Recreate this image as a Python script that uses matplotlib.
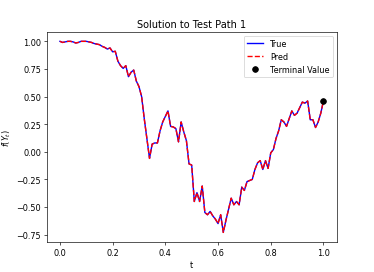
import numpy as np
import matplotlib
matplotlib.use('Agg')
import matplotlib.pyplot as plt

# path values, dt = 0.01
t = np.linspace(0, 1, 101)
y_true = [1.00, 0.99, 0.995, 1.00, 1.00, 0.995, 0.985, 0.99, 1.00, 1.00,
          1.00, 0.995, 0.99, 0.98, 0.975, 0.97, 0.955, 0.945, 0.93, 0.94,
          0.905, 0.91, 0.82, 0.78, 0.755, 0.78, 0.68, 0.72, 0.74, 0.64,
          0.59, 0.50, 0.30, 0.12, -0.06, 0.07, 0.08, 0.08, 0.19, 0.27,
          0.32, 0.37, 0.23, 0.225, 0.21, 0.09, 0.27, 0.18, 0.10, -0.11,
          -0.12, -0.45, -0.37, -0.45, -0.31, -0.55, -0.57, -0.54, -0.58, -0.61,
          -0.65, -0.57, -0.73, -0.62, -0.52, -0.42, -0.48, -0.45, -0.48, -0.32,
          -0.35, -0.27, -0.26, -0.25, -0.16, -0.10, -0.08, -0.16, -0.08, -0.15,
          -0.01, 0.02, 0.12, 0.19, 0.29, 0.27, 0.23, 0.30, 0.37, 0.33,
          0.35, 0.40, 0.45, 0.44, 0.46, 0.29, 0.29, 0.22, 0.27, 0.35,
          0.46]
y_pred = list(y_true)
terminal_t = 1.0
terminal_value = 0.46

fig, ax = plt.subplots(figsize=(6.4, 4.671), dpi=58.44)
ax.plot(t, y_true, 'b', lw=1.7, label='True')
ax.plot(t, y_pred, 'r--', lw=1.7, label='Pred')
ax.plot(terminal_t, terminal_value, 'ko', ms=7, label='Terminal Value')
ax.set_title('Solution to Test Path 1')
ax.set_xlabel('t')
ax.set_ylabel('$f(Y_t)$')
ax.legend(loc='upper right')
fig.savefig('out.png', dpi=58.44)
